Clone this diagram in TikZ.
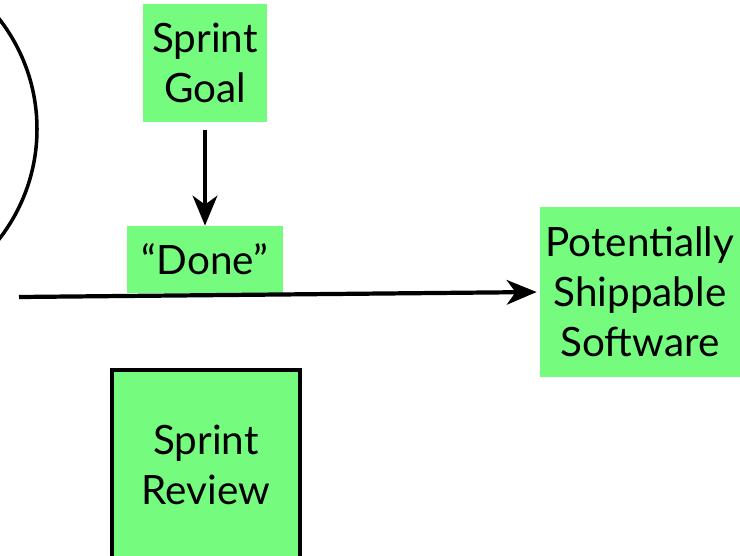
\documentclass[tikz,border=0pt]{standalone}
\usepackage{fontspec}
\setmainfont{Lato}
\usetikzlibrary{arrows.meta}
\definecolor{boxgreen}{RGB}{117,251,125}
\tikzset{
  greenbox/.style={fill=boxgreen, inner sep=0pt, align=center, font=\fontsize{23}{28.5}\selectfont},
  flow/.style={line width=2.4pt, -{Stealth[length=17pt, width=14pt, inset=5pt]}}
}

\begin{document}
\begin{tikzpicture}
			%%%%% START %%%%%
			\useasboundingbox (0, 0) rectangle (14.8, 11.1);
			\clip (0, 0) rectangle (14.8, 11.1);
			
			\draw[line width=2pt] (-2.84, 8.52) circle (3.58);
			
			\node[greenbox, minimum width=2.48cm, minimum height=2.36cm] (goal) at (4.10, 9.84) {Sprint\\Goal};
			\node[greenbox, minimum width=3.12cm, minimum height=1.34cm] (done) at (4.10, 5.91) {``Done''};
			\node[greenbox, minimum width=4.0cm, minimum height=3.4cm] (software) at (12.8, 5.26) {Potentially\\Shippable\\Software};
			\node[greenbox, draw=black, line width=2pt, minimum width=3.76cm, minimum height=3.8cm] (review) at (4.12, 1.8) {Sprint\\Review};
			
			\coordinate (start) at (0.38, 5.16);
			
			\draw[flow, shorten <=0.16cm] (goal) -- (done);
			\draw[flow, shorten >=0.06cm] (start) -- (software.west);
			
			%%%%% END %%%%%
		\end{tikzpicture}
\end{document}
